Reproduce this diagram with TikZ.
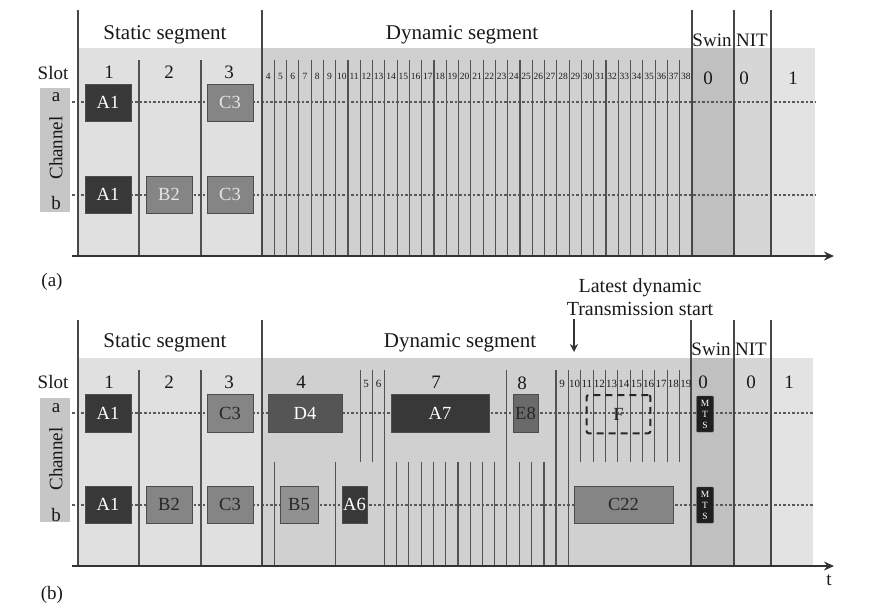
\documentclass[tikz,border=0pt]{standalone}
\usepackage{fontspec}
\setmainfont{Liberation Serif}
\usepackage{tikz}
\usetikzlibrary{arrows.meta}
\definecolor{bgstat}{HTML}{E0E0E0}
\definecolor{bgdyn}{HTML}{D0D0D0}
\definecolor{bgswin}{HTML}{C0C0C0}
\definecolor{bgnit}{HTML}{D6D6D6}
\definecolor{bgnext}{HTML}{E3E3E3}
\definecolor{chbar}{HTML}{C6C6C6}
\definecolor{dk}{HTML}{383838}
\definecolor{md}{HTML}{555555}
\definecolor{gr}{HTML}{858585}
\definecolor{ge}{HTML}{6A6A6A}
\newcommand\bx[8]{\node[frame, fill=#6, text=#7, minimum width={#4-#2}, minimum height={#5-#3}] (#1) at (#2,#3) {#8};}
\begin{document}
\begin{tikzpicture}[x=1pt,y=-1pt,
  lbl/.style={inner sep=0pt, text=black!90, font=\fontsize{19}{21}\selectfont},
  ttl/.style={inner sep=0pt, text=black!90, font=\fontsize{21}{23}\selectfont},
  sml/.style={inner sep=0pt, text=black!90, font=\fontsize{9.5}{10}\selectfont},
  smb/.style={inner sep=0pt, text=black!90, font=\fontsize{11}{12}\selectfont},
  frame/.style={draw=black!70, line width=1pt, inner sep=0pt, outer sep=0pt, anchor=north west, font=\fontsize{18.5}{20}\selectfont},
  chan/.style={draw=black!65, line width=1.3pt, dash pattern=on 2.5pt off 2pt},
  vl/.style={draw=black!68, line width=1.1pt},
  vlong/.style={draw=black!72, line width=1.3pt},
  axis/.style={draw=black!80, line width=1.8pt, -{Stealth[length=10pt,width=9pt]}},
  mts/.style={fill=black!88, draw=black!70, rounded corners=1pt, inner sep=0pt, minimum width=17, minimum height=36, text=white, align=center, font=\fontsize{9.5}{11}\selectfont},
  fdash/.style={draw=black!85, line width=2pt, dash pattern=on 7pt off 5pt, rounded corners=2pt, inner sep=0pt, anchor=north west, text=black!85, font=\fontsize{18.5}{20}\selectfont}
]
\useasboundingbox (0,0) rectangle (884,614);

% ================= panel (a) =================
\fill[bgstat] (78,48) rectangle (262,256);
\fill[bgdyn] (262,48) rectangle (692,256);
\fill[bgswin] (692,48) rectangle (734,256);
\fill[bgnit] (734,48) rectangle (771,256);
\fill[bgnext] (771,48) rectangle (815,256);
\fill[chbar] (40,88) rectangle (70,212);

\coordinate (aL) at (72,102); \coordinate (aR) at (815,102);
\coordinate (bL) at (72,195); \coordinate (bR) at (815,195);
\draw[chan] (aL) -- (aR);
\draw[chan] (bL) -- (bR);

\foreach \x in {78,262,692,734,771}{\draw[vlong] (\x,10) -- (\x,256);}
\foreach \x in {139,201}{\draw[vl] (\x,60) -- (\x,256);}
\foreach \k in {1,...,34}{\draw[vl] ({262+12.2857*\k},60) -- ({262+12.2857*\k},256);}
\foreach \k in {0,...,34}{\pgfmathtruncatemacro\n{\k+4}\node[sml] (ma\k) at ({262+12.2857*(\k+0.5)},76) {\n};}

\coordinate (axA0) at (72,256); \coordinate (axA1) at (834,256);
\draw[axis] (axA0) -- (axA1);

\node[ttl] (statA) at (165,35) {Static segment};
\node[ttl] (dynA) at (462,35) {Dynamic segment};
\node[lbl] (swinA) at (712,40) {Swin};
\node[lbl] (nitA) at (752,40) {NIT};
\node[lbl] (slotA) at (53,73) {Slot};
\node[lbl] (s1A) at (109,72) {1};
\node[lbl] (s2A) at (169,72) {2};
\node[lbl] (s3A) at (229,72) {3};
\node[lbl] (z1A) at (708,78) {0};
\node[lbl] (z2A) at (744,78) {0};
\node[lbl] (o1A) at (793,78) {1};
\node[lbl] (chaA) at (56,97) {a};
\node[lbl] (chbA) at (56,203) {b};
\node[lbl, rotate=90] (chA) at (56,148) {Channel};
\node[lbl] (capA) at (52,282) {(a)};

\bx{a1a}{85}{84}{131}{121}{dk}{white}{A1}
\bx{c3a}{207}{84}{253}{121}{gr}{white!90!black}{C3}
\bx{a1b}{85}{176}{131}{213}{dk}{white}{A1}
\bx{b2b}{146}{176}{192}{213}{gr}{white!90!black}{B2}
\bx{c3b}{207}{176}{253}{213}{gr}{white!90!black}{C3}

% ================= panel (b) =================
\fill[bgstat] (78,358) rectangle (262,566);
\fill[bgdyn] (262,358) rectangle (691,566);
\fill[bgswin] (691,358) rectangle (734,566);
\fill[bgnit] (734,358) rectangle (771,566);
\fill[bgnext] (771,358) rectangle (813,566);
\fill[chbar] (40,398) rectangle (70,522);

\coordinate (cL) at (72,413); \coordinate (cR) at (813,413);
\coordinate (dL) at (72,505); \coordinate (dR) at (813,505);
\draw[chan] (cL) -- (cR);
\draw[chan] (dL) -- (dR);

\foreach \x in {78,262,691,734,771}{\draw[vlong] (\x,320) -- (\x,566);}
\foreach \x in {139,201,384.3,506.7,556,568.3}{\draw[vl] (\x,370) -- (\x,566);}
\foreach \x in {360.7,372.7}{\draw[vl] (\x,370) -- (\x,461.7);}
\foreach \k in {2,...,10}{\draw[vl] ({556+12.36*\k},370) -- ({556+12.36*\k},461.7);}
\foreach \x in {274.3,335.7,396.6,408.9,421.2,433.5,445.7,458.0,470.3,482.6,494.9,519.5,531.8,544.0}{\draw[vl] (\x,461.7) -- (\x,566);}

\coordinate (axB0) at (72,566); \coordinate (axB1) at (834,566);
\draw[axis] (axB0) -- (axB1);
\node[lbl] (tlab) at (829,580) {t};

\node[ttl] (statB) at (165,343) {Static segment};
\node[ttl] (dynB) at (460,343) {Dynamic segment};
\node[lbl] (swinB) at (711,349) {Swin};
\node[lbl] (nitB) at (751,349) {NIT};
\node[lbl, align=center, font=\fontsize{20}{23}\selectfont] (latest) at (640,297) {Latest dynamic\\Transmission start};
\coordinate (arrT) at (574,319); \coordinate (arrB) at (574,352);
\draw[black!80, line width=2pt, -{Stealth[length=8pt,width=8pt]}] (arrT) -- (arrB);

\node[lbl] (slotB) at (53,382) {Slot};
\node[lbl] (s1B) at (109,382) {1};
\node[lbl] (s2B) at (169,382) {2};
\node[lbl] (s3B) at (229,382) {3};
\node[lbl] (s4B) at (301,382) {4};
\node[smb] (s5B) at (366,384) {5};
\node[smb] (s6B) at (378.5,384) {6};
\node[lbl] (s7B) at (436,382) {7};
\node[lbl] (s8B) at (522,383) {8};
\foreach \k in {0,...,10}{\pgfmathtruncatemacro\n{\k+9}\node[smb] (mb\k) at ({556+12.36*(\k+0.5)},384) {\n};}
\node[lbl] (z1B) at (703,382) {0};
\node[lbl] (z2B) at (751,382) {0};
\node[lbl] (o1B) at (789,382) {1};
\node[lbl] (chaB) at (56,408) {a};
\node[lbl] (chbB) at (56,515) {b};
\node[lbl, rotate=90] (chB) at (56,459) {Channel};
\node[lbl] (capB) at (52,595) {(b)};

\bx{a1c}{85}{394}{131}{432}{dk}{white}{A1}
\bx{c3c}{207}{394}{253}{432}{gr}{black!85}{C3}
\bx{d4c}{268}{394}{342}{432}{md}{white}{D4}
\bx{a7c}{391}{394}{489}{432}{dk}{white}{A7}
\bx{e8c}{513}{394}{538}{432}{ge}{black!85}{E8}
\node[fdash, minimum width=63.6, minimum height=38.3] (fbox) at (585.7,394) {F};
\node[mts] (mtsa) at (705,414) {M\\T\\S};

\bx{a1d}{85}{486}{131}{523}{dk}{white}{A1}
\bx{b2d}{146}{486}{192}{523}{gr}{black!85}{B2}
\bx{c3d}{207}{486}{253}{523}{gr}{black!85}{C3}
\bx{b5d}{280}{486}{318}{523}{gr!90!white}{black!85}{B5}
\bx{a6d}{342}{486}{367}{523}{dk}{white}{A6}
\bx{c22d}{574}{486}{673}{523}{gr}{black!85}{C22}
\node[mts] (mtsb) at (705,505) {M\\T\\S};
\end{tikzpicture}
\end{document}
